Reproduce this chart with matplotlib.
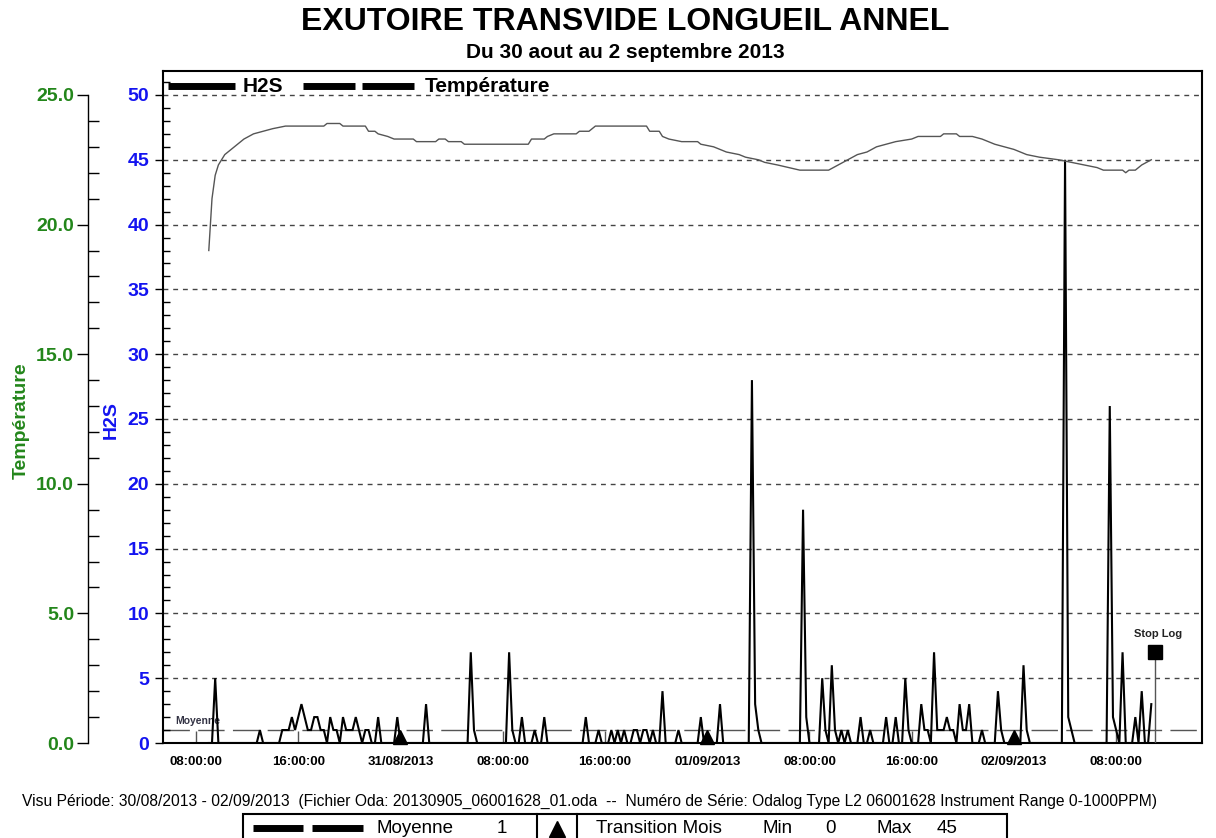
import numpy as np
import pandas as pd
import matplotlib
matplotlib.use('Agg')
import matplotlib.pyplot as plt
import matplotlib.dates as mdates
from matplotlib.lines import Line2D
from matplotlib.patches import Rectangle
from matplotlib.ticker import MultipleLocator
from matplotlib import font_manager

plt.rcParams['font.family'] = ['Liberation Sans', 'DejaVu Sans']

# ---------------- data ----------------
title = "EXUTOIRE TRANSVIDE LONGUEIL ANNEL"
subtitle = "Du 30 aout au 2 septembre 2013"
footer = ("Visu Période: 30/08/2013 - 02/09/2013  (Fichier Oda: 20130905_06001628_01.oda  --  "
          "Numéro de Série: Odalog Type L2 06001628 Instrument Range 0-1000PPM)")

h2s_start = '2013-08-30 09:00'
h2s_step = '15min'
h2s_values = [
    0, 0, 5, 0,   0, 0, 0, 0,   0, 0, 0, 0,   0, 0, 0, 0,   1, 0, 0, 0,   # 09h-13h
    0, 0, 0, 1,   1, 1, 2, 1,   2, 3, 2, 1,   1, 2, 2, 1,   1, 0, 2, 1,   # 14h-18h
    1, 0, 2, 1,   1, 1, 2, 1,   0, 1, 1, 0,   0, 2, 0, 0,   0, 0, 0, 2,   # 19h-23h
    0, 0, 0, 0,   0, 0, 0, 0,   3, 0, 0, 0,   0, 0, 0, 0,   0, 0, 0, 0,   # 31/08 00h-04h
    0, 0, 7, 1,   0, 0, 0, 0,   0, 0, 0, 0,   0, 0, 7, 1,   0, 0, 2, 0,   # 05h-09h
    0, 0, 1, 0,   0, 2, 0, 0,   0, 0, 0, 0,   0, 0, 0, 0,   0, 0, 2, 0,   # 10h-14h
    0, 0, 1, 0,   0, 0, 1, 0,   1, 0, 1, 0,   0, 1, 1, 0,   1, 1, 0, 1,   # 15h-19h
    0, 0, 4, 0,   0, 0, 0, 1,   0, 0, 0, 0,   0, 0, 2, 0,                 # 20h-23h
    0, 0, 0, 0,   3, 0, 0, 0,   0, 0, 0, 0,   0, 0, 28, 3,  1, 0, 0, 0,   # 01/09 00h-04h
    0, 0, 0, 0,   0, 0, 0, 0,   0, 0, 18, 2,  0, 0, 0, 0,   5, 1, 0, 6,   # 05h-09h
    1, 0, 1, 0,   1, 0, 0, 0,   2, 0, 0, 1,   0, 0, 0, 0,   2, 0, 0, 2,   # 10h-14h
    0, 0, 5, 1,   0, 0, 0, 3,   1, 1, 0, 7,   1, 1, 1, 2,   1, 1, 0, 3,   # 15h-19h
    1, 1, 3, 0,   0, 0, 1, 0,   0, 0, 0, 4,   1, 0, 0, 0,                 # 20h-23h
    0, 0, 0, 6,   1, 0, 0, 0,   0, 0, 0, 0,   0, 0, 0, 0,   45, 2, 1, 0,  # 02/09 00h-04h
    0, 0, 0, 0,   0, 0, 0, 0,   0, 0, 26, 2,  1, 0, 7, 0,   0, 0, 2, 0,   # 05h-09h
    4, 0, 0, 3,                                                           # 10h
]

day0 = '2013-08-30 00:00'
temp_hours = [9.0, 9.25, 9.5, 9.75, 10.25, 11.0, 11.75, 12.5, 13.25, 14.0, 15.0, 18.0, 18.25,
              19.25, 19.5, 21.25, 21.5, 22.0, 22.25, 23.0, 23.5, 25.0, 25.25, 26.75, 27.0, 27.5,
              27.75, 28.75, 29.0, 34.0, 34.25, 35.25, 35.5, 36.0, 37.75, 38.0, 38.75, 39.25,
              43.25, 43.5, 44.25, 44.5, 45.0, 46.0, 47.25, 47.5, 48.5, 49.5, 50.5, 51.0, 52.0,
              52.5, 53.5, 55.25, 57.5, 58.25, 59.0, 59.75, 60.5, 61.25, 62.0, 62.75, 64.0, 64.5,
              66.25, 66.5, 67.5, 67.75, 68.75, 69.5, 70.5, 71.25, 72.0, 73.0, 74.0, 75.5, 76.5,
              77.5, 78.5, 79.0, 80.5, 80.75, 81.0, 81.5, 82.0, 82.75]
temp_values = [19.0, 21.0, 21.9, 22.3, 22.7, 23.0, 23.3, 23.5, 23.6, 23.7, 23.8, 23.8, 23.9,
               23.9, 23.8, 23.8, 23.6, 23.6, 23.5, 23.4, 23.3, 23.3, 23.2, 23.2, 23.3, 23.3,
               23.2, 23.2, 23.1, 23.1, 23.3, 23.3, 23.4, 23.5, 23.5, 23.6, 23.6, 23.8,
               23.8, 23.6, 23.6, 23.4, 23.3, 23.2, 23.2, 23.1, 23.0, 22.8, 22.7, 22.6, 22.5,
               22.4, 22.3, 22.1, 22.1, 22.3, 22.5, 22.7, 22.8, 23.0, 23.1, 23.2, 23.3, 23.4,
               23.4, 23.5, 23.5, 23.4, 23.4, 23.3, 23.1, 23.0, 22.9, 22.7, 22.6, 22.5, 22.4,
               22.3, 22.2, 22.1, 22.1, 22.0, 22.1, 22.1, 22.3, 22.5]

x_tick_times = ['2013-08-30 08:00', '2013-08-30 16:00', '2013-08-31 00:00', '2013-08-31 08:00',
                '2013-08-31 16:00', '2013-09-01 00:00', '2013-09-01 08:00', '2013-09-01 16:00',
                '2013-09-02 00:00', '2013-09-02 08:00']
x_tick_labels = ['08:00:00', '16:00:00', '31/08/2013', '08:00:00', '16:00:00', '01/09/2013',
                 '08:00:00', '16:00:00', '02/09/2013', '08:00:00']
x_limits = ['2013-08-30 05:25', '2013-09-02 14:43']
transition_times = ['2013-08-31 00:00', '2013-09-01 00:00', '2013-09-02 00:00']
stop_log_time = '2013-09-02 11:00'
stop_log_value = 7
moyenne = 1
h2s_min = 0
h2s_max = 45
h2s_ticks = list(range(0, 51, 5))
temp_ticks = [0.0, 5.0, 10.0, 15.0, 20.0, 25.0]

# ---------------- styling ----------------
W, H = 1216, 838
GREEN = '#23861b'
BLUE = '#1414f0'

def dnum(s):
    return mdates.date2num(pd.Timestamp(s).to_pydatetime())

h2s_times = pd.date_range(h2s_start, periods=len(h2s_values), freq=h2s_step)
h2s_x = mdates.date2num(h2s_times.to_pydatetime())
temp_x = mdates.date2num((pd.Timestamp(day0) + pd.to_timedelta(temp_hours, unit='h')).to_pydatetime())

fig = plt.figure(figsize=(W / 100, H / 100), dpi=100)
ax = fig.add_axes([163 / W, 1 - 743 / H, (1202 - 163) / W, (743 - 71) / H])
ymax = 51.85
ax.set_ylim(0, ymax)
ax.set_xlim(dnum(x_limits[0]), dnum(x_limits[1]))

# grid lines
for v in h2s_ticks[1:]:
    ax.axhline(v, color='#444444', lw=1.0, ls=(0, (3.5, 3.5)), zorder=1)
# Moyenne line
ax.axhline(moyenne, color='#555555', lw=1.0, ls=(0, (19, 6)), zorder=1)
ax.text(0.0115, moyenne + 0.35, 'Moyenne', transform=ax.get_yaxis_transform(),
        fontsize=7.5, fontweight='bold', color='#333344', va='bottom', ha='left')

# H2S line
ax.plot(h2s_x, h2s_values, color='black', lw=1.5, zorder=4, solid_joinstyle='miter')

# transitions
for t in transition_times:
    ax.plot([dnum(t)], [0.45], marker='^', ms=10, color='black', zorder=5, clip_on=False)

# stop log
sx = dnum(stop_log_time)
ax.plot([sx, sx], [0, stop_log_value], color='#555555', lw=1.0, zorder=5)
ax.plot([sx], [stop_log_value], marker='s', ms=10, color='black', zorder=6)
ax.text(sx + 0.013, stop_log_value + 1.0, 'Stop Log', fontsize=8, fontweight='bold',
        ha='center', va='bottom', color='#222222')

# axes styling
for s in ax.spines.values():
    s.set_linewidth(1.5)
ax.set_yticks(h2s_ticks)
ax.set_yticklabels([str(v) for v in h2s_ticks], fontweight='bold', color=BLUE, fontsize=14)
ax.yaxis.set_minor_locator(MultipleLocator(1))
ax.tick_params(axis='y', which='major', direction='out', length=6, width=1, pad=4)
ax.tick_params(axis='y', which='minor', direction='in', length=5, width=1)

ax.set_xticks([dnum(t) for t in x_tick_times])
ax.set_xticklabels(x_tick_labels, fontsize=9.5, fontweight='bold')
ax.tick_params(axis='x', direction='in', length=9, width=1, color='#555555', pad=9)

ax.set_ylabel('H2S', color=BLUE, fontsize=14, fontweight='bold')
ax.yaxis.set_label_coords(-0.0414, 0.48)

# temperature axis
ax2 = ax.twinx()
ax2.set_ylim(0, ymax / 2)
ax2.spines['right'].set_visible(False)
ax2.spines['top'].set_visible(False)
ax2.spines['bottom'].set_visible(False)
ax2.spines['left'].set_visible(True)
ax2.spines['left'].set_position(('outward', 54))
ax2.spines['left'].set_bounds(0, 25)
ax2.spines['left'].set_linewidth(1.0)
ax2.yaxis.tick_left()
ax2.yaxis.set_label_position('left')
ax2.set_yticks(temp_ticks)
ax2.set_yticklabels(['%.1f' % v for v in temp_ticks], fontweight='bold', color=GREEN, fontsize=14)
ax2.yaxis.set_minor_locator(MultipleLocator(1))
ax2.tick_params(axis='y', which='major', direction='out', length=8, width=1, pad=2)
ax2.tick_params(axis='y', which='minor', direction='in', length=8, width=1)
ax2.set_ylabel('Température', color=GREEN, fontsize=14, fontweight='bold')
ax2.yaxis.set_label_coords(-0.128, 0.48)
ax2.plot(temp_x, temp_values, color='#555555', lw=1.0, zorder=3)

# top legend
ly = (743 - 86) / (743 - 71)
def axx(px):
    return (px - 163) / (1202 - 163)
ax.plot([axx(168), axx(235)], [ly, ly], transform=ax.transAxes, color='black', lw=5,
        solid_capstyle='butt', clip_on=False, zorder=7)
ax.text(axx(243), ly, 'H2S', transform=ax.transAxes, fontsize=15, fontweight='bold',
        va='center', ha='left')
for a, b in [(303, 355), (362, 414)]:
    ax.plot([axx(a), axx(b)], [ly, ly], transform=ax.transAxes, color='black', lw=5,
            solid_capstyle='butt', clip_on=False, zorder=7)
ax.text(axx(425), ly, 'Température', transform=ax.transAxes, fontsize=15, fontweight='bold',
        va='center', ha='left')

# titles
fig.text(625.5 / W, 1 - 22 / H, title, fontsize=23, fontweight='bold', ha='center', va='center')
fig.text(625 / W, 1 - 52 / H, subtitle, fontsize=15, fontweight='bold', ha='center', va='center')

# footer
names = {f.name for f in font_manager.fontManager.ttflist}
narrow = 'Liberation Sans Narrow' if 'Liberation Sans Narrow' in names else 'Liberation Sans'
ft = fig.text(22 / W, 1 - 801 / H, footer, fontsize=10, family=[narrow, 'DejaVu Sans'],
              ha='left', va='center')
fig.canvas.draw()
w = ft.get_window_extent().width
ft.set_fontsize(10 * (1135 / w))

# footer legend box
fy = (838 - 828) / H
fig.add_artist(Rectangle((243 / W, -0.02), (1007 - 243) / W, (838 - 814) / H + 0.02,
                         transform=fig.transFigure, fill=False, lw=1.5, ec='black'))
for xx in (537, 577):
    fig.add_artist(Line2D([xx / W, xx / W], [-0.02, (838 - 814) / H], transform=fig.transFigure,
                          color='black', lw=1.5))
for a, b in [(253, 303), (312, 363)]:
    fig.add_artist(Line2D([a / W, b / W], [fy, fy], transform=fig.transFigure, color='black',
                          lw=5, solid_capstyle='butt'))
fig.add_artist(Line2D([557 / W], [fy - 0.001], transform=fig.transFigure, marker='^', ms=12,
                      color='black'))
lsize = 15 if narrow != 'Liberation Sans' else 13.5
ffam = [narrow, 'DejaVu Sans']
fig.text(376 / W, fy, 'Moyenne', fontsize=lsize, family=ffam, ha='left', va='center')
fig.text(502 / W, fy, str(moyenne), fontsize=lsize, family=ffam, ha='center', va='center')
fig.text(596 / W, fy, 'Transition Mois', fontsize=lsize, family=ffam, ha='left', va='center')
fig.text(762 / W, fy, 'Min', fontsize=lsize, family=ffam, ha='left', va='center')
fig.text(830 / W, fy, str(h2s_min), fontsize=lsize, family=ffam, ha='center', va='center')
fig.text(876 / W, fy, 'Max', fontsize=lsize, family=ffam, ha='left', va='center')
fig.text(937 / W, fy, str(h2s_max), fontsize=lsize, family=ffam, ha='left', va='center')

fig.savefig('out.png', dpi=100)
